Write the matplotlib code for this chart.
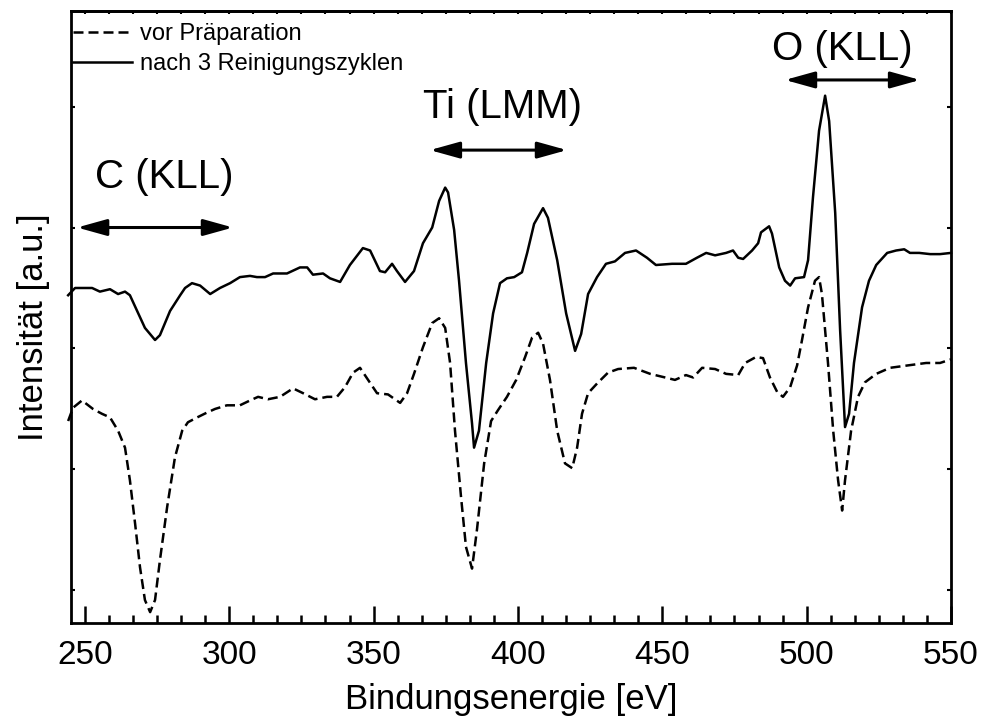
import matplotlib
matplotlib.use('Agg')
import matplotlib.pyplot as plt
from matplotlib.ticker import MultipleLocator, AutoMinorLocator, NullFormatter

plt.rcParams['font.family'] = ['Liberation Sans', 'DejaVu Sans']

# nach 3 Reinigungszyklen (durchgezogen)
energie_nach = [244.2, 246.6, 249.4, 252.5, 255.2, 258.7, 261.5, 263.9, 265.6, 268.1,
                270.8, 274.3, 276.0, 279.5, 283.0, 284.7, 287.1, 289.9, 293.4, 296.8,
                300.3, 303.7, 307.2, 309.6, 312.4, 315.2, 320.0, 324.5, 327.0, 329.0,
                332.5, 334.9, 338.4, 341.8, 346.3, 348.8, 352.2, 354.0, 356.4, 358.1,
                360.9, 364.0, 367.1, 370.3, 372.7, 374.8, 375.8, 377.9, 379.6, 382.0,
                384.1, 384.8, 386.5, 389.0, 391.4, 393.8, 396.2, 398.7, 401.4, 403.2,
                405.6, 408.7, 410.4, 413.6, 416.7, 419.8, 421.9, 424.3, 427.4, 430.5,
                433.6, 437.1, 440.9, 444.7, 447.8, 453.4, 458.2, 462.0, 465.2, 468.3,
                472.1, 474.5, 476.3, 478.0, 481.1, 483.2, 484.2, 487.0, 488.0, 490.5,
                492.5, 494.3, 496.0, 499.1, 500.5, 502.2, 504.3, 506.4, 507.8, 509.9,
                511.6, 513.3, 514.7, 516.4, 519.2, 521.6, 524.1, 527.9, 531.0, 533.8,
                535.8, 539.0, 542.8, 546.2, 550.0]
intens_nach = [2.44, 2.50, 2.50, 2.50, 2.47, 2.49, 2.45, 2.47, 2.44, 2.31,
               2.17, 2.07, 2.11, 2.31, 2.44, 2.50, 2.54, 2.52, 2.45, 2.50,
               2.54, 2.59, 2.60, 2.59, 2.59, 2.62, 2.62, 2.67, 2.67, 2.61,
               2.62, 2.58, 2.55, 2.69, 2.83, 2.81, 2.64, 2.63, 2.70, 2.64,
               2.55, 2.64, 2.87, 3.00, 3.22, 3.33, 3.29, 2.98, 2.56, 1.88,
               1.38, 1.18, 1.32, 1.88, 2.29, 2.54, 2.58, 2.59, 2.63, 2.79,
               3.03, 3.16, 3.08, 2.73, 2.29, 1.98, 2.12, 2.45, 2.59, 2.70,
               2.72, 2.79, 2.81, 2.75, 2.69, 2.70, 2.70, 2.75, 2.79, 2.77,
               2.79, 2.81, 2.75, 2.74, 2.81, 2.87, 2.96, 3.01, 2.95, 2.67,
               2.56, 2.52, 2.58, 2.59, 2.73, 3.25, 3.80, 4.09, 3.88, 3.12,
               2.15, 1.35, 1.46, 1.88, 2.34, 2.56, 2.69, 2.79, 2.81, 2.82,
               2.79, 2.79, 2.78, 2.78, 2.79]

# vor Praeparation (gestrichelt)
energie_vor = [244.2, 245.9, 249.0, 252.8, 255.9, 258.7, 261.5, 263.9, 265.6, 267.4,
               269.1, 270.8, 272.6, 274.3, 276.0, 278.5, 281.2, 283.7, 285.7, 288.9,
               292.3, 295.1, 299.2, 303.7, 307.2, 310.0, 313.4, 317.6, 322.1, 325.6,
               329.7, 333.9, 337.3, 340.1, 342.9, 345.3, 348.1, 351.2, 355.0, 359.2,
               361.6, 364.0, 367.1, 370.3, 372.7, 374.8, 376.5, 378.2, 380.3, 382.0,
               384.1, 385.8, 388.3, 390.7, 393.1, 396.2, 399.4, 402.5, 404.9, 407.0,
               408.7, 411.1, 413.6, 416.3, 418.8, 420.5, 422.2, 424.3, 427.4, 431.2,
               434.7, 440.2, 445.8, 451.0, 454.4, 458.2, 460.7, 463.8, 468.3, 472.1,
               476.3, 478.7, 482.5, 484.9, 487.3, 489.8, 491.8, 494.3, 496.7, 498.4,
               500.5, 502.9, 504.3, 505.3, 507.4, 509.2, 510.9, 512.3, 513.3, 515.4,
               517.8, 520.2, 524.1, 528.9, 535.1, 541.4, 546.2, 550.0]
intens_vor = [1.40, 1.51, 1.57, 1.50, 1.46, 1.43, 1.32, 1.18, 0.91, 0.55,
              0.19, -0.08, -0.18, -0.08, 0.25, 0.69, 1.10, 1.32, 1.39, 1.43,
              1.47, 1.50, 1.53, 1.53, 1.57, 1.60, 1.58, 1.60, 1.67, 1.63,
              1.58, 1.60, 1.60, 1.68, 1.80, 1.84, 1.74, 1.63, 1.62, 1.55,
              1.63, 1.79, 2.01, 2.21, 2.25, 2.17, 1.88, 1.32, 0.77, 0.36,
              0.18, 0.50, 1.05, 1.40, 1.49, 1.60, 1.74, 1.93, 2.09, 2.13,
              2.04, 1.74, 1.32, 1.05, 1.01, 1.18, 1.46, 1.63, 1.71, 1.80,
              1.83, 1.84, 1.79, 1.76, 1.74, 1.78, 1.76, 1.84, 1.83, 1.79,
              1.78, 1.88, 1.93, 1.92, 1.76, 1.64, 1.60, 1.68, 1.86, 2.07,
              2.34, 2.56, 2.59, 2.45, 1.88, 1.32, 0.91, 0.66, 0.91, 1.32,
              1.60, 1.72, 1.79, 1.84, 1.86, 1.88, 1.88, 1.91]

# Bereiche der Auger-Uebergaenge
peak_namen = ['C (KLL)', 'Ti (LMM)', 'O (KLL)']
peak_von = [247.3, 369.5, 492.5]
peak_bis = [301.3, 417.0, 539.3]
pfeil_hoehe = [3.00, 3.64, 4.22]
text_x = [277.4, 394.5, 512.3]
text_hoehe = [3.33, 3.905, 4.385]

fig = plt.figure(figsize=(9.81, 7.2), dpi=100)
ax = fig.add_axes([0.0724, 0.1347, 0.897, 0.85])

ax.plot(energie_vor, intens_vor, color='black', lw=1.8, linestyle=(0, (4, 2)),
        dash_joinstyle='round', clip_on=False, label='vor Präparation')
ax.plot(energie_nach, intens_nach, color='black', lw=1.8, solid_joinstyle='round',
        clip_on=False, label='nach 3 Reinigungszyklen')

for name, a, b, yp, xt, yt in zip(peak_namen, peak_von, peak_bis, pfeil_hoehe, text_x, text_hoehe):
    ax.annotate('', xy=(a, yp), xytext=(b, yp),
                arrowprops=dict(arrowstyle='<|-|>,head_length=0.9,head_width=0.25',
                                mutation_scale=20, color='black', lw=2.2,
                                shrinkA=0, shrinkB=0))
    ax.text(xt, yt, name, fontsize=29, ha='center', va='baseline')

ax.set_xlim(245.2, 550)
ax.set_ylim(-0.27, 4.79)
ax.xaxis.set_major_locator(MultipleLocator(50))
ax.xaxis.set_minor_locator(AutoMinorLocator(6))
ax.yaxis.set_major_locator(MultipleLocator(1))
ax.yaxis.set_major_formatter(NullFormatter())

for s in ax.spines.values():
    s.set_linewidth(2)

ax.tick_params(axis='x', which='major', direction='in', length=12, width=1.8,
               labelsize=24, pad=12)
ax.tick_params(axis='x', which='minor', direction='in', length=6, width=1.8)
ax.tick_params(axis='y', which='major', direction='in', length=3, width=1.5,
               left=True, right=True)

top = ax.secondary_xaxis('top')
top.xaxis.set_major_locator(MultipleLocator(50))
top.xaxis.set_minor_locator(AutoMinorLocator(6))
top.xaxis.set_major_formatter(NullFormatter())
top.tick_params(which='both', direction='in', length=2.5, width=1.5)
top.spines['top'].set_linewidth(2)

ax.set_xlabel('Bindungsenergie [eV]', fontsize=25, labelpad=9)
ax.set_ylabel('Intensität [a.u.]', fontsize=25)
ax.yaxis.set_label_coords(-0.024, 0.484)

ax.legend(loc='upper left', bbox_to_anchor=(-0.011, 1), frameon=False, fontsize=17,
          handlelength=2.5, handletextpad=0.35, labelspacing=0.35,
          borderpad=0.5, borderaxespad=0)

fig.savefig('out.png', dpi=100)
